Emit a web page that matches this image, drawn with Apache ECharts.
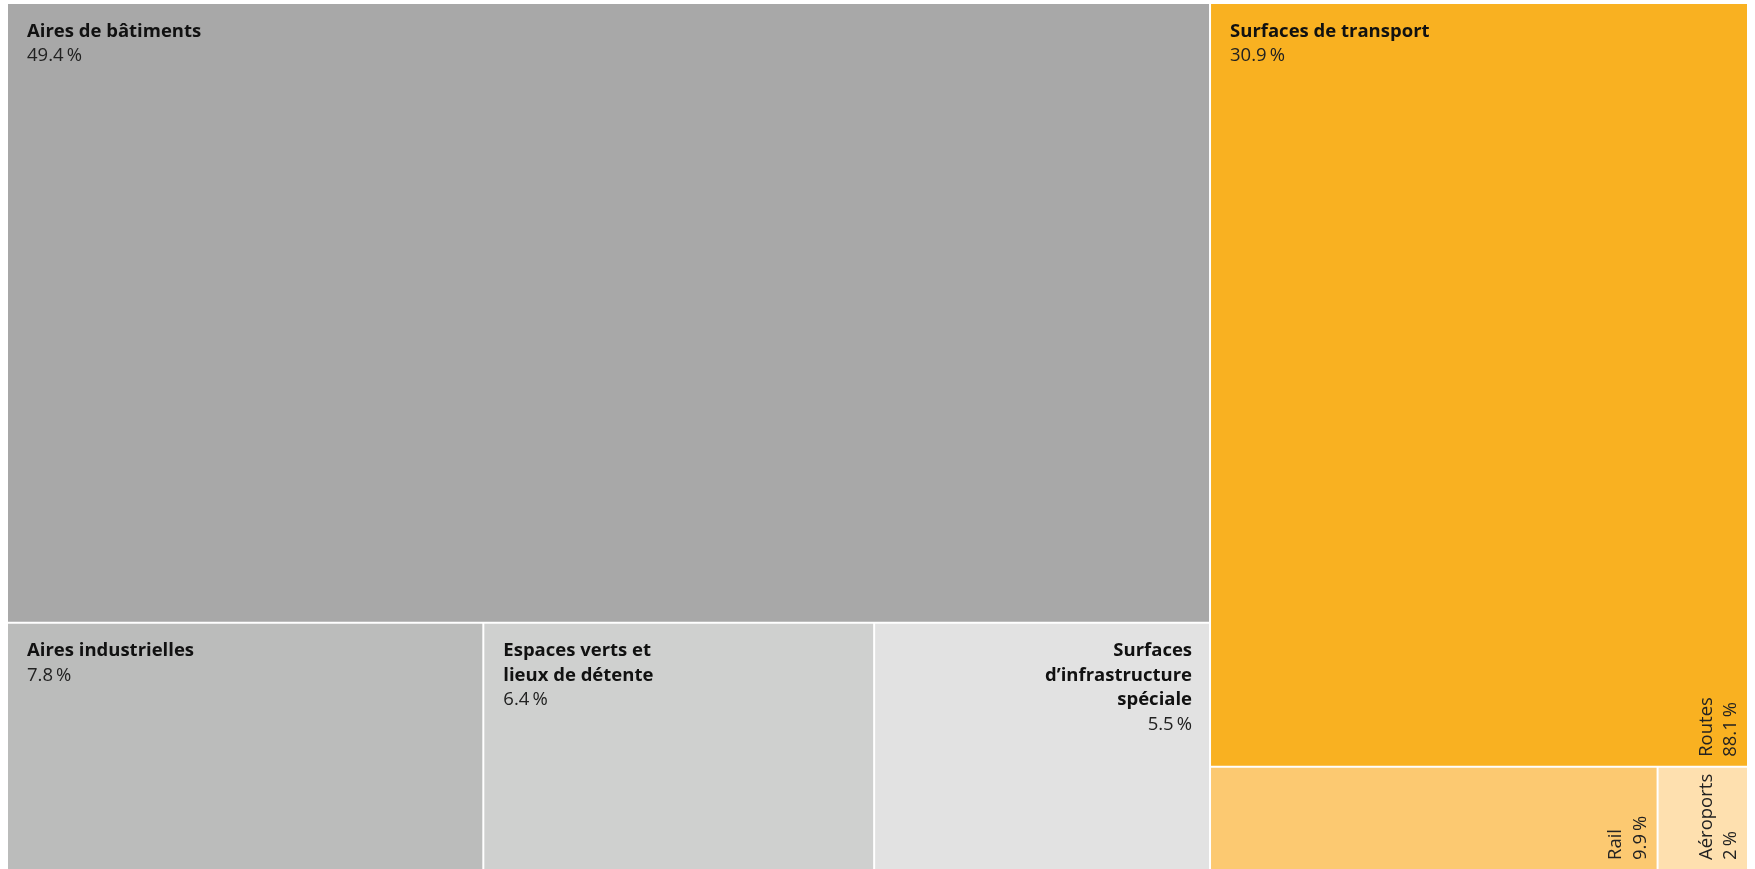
<!DOCTYPE html>
<html>
<head>
<meta charset="utf-8">
<script src="https://cdn.jsdelivr.net/npm/echarts@6/dist/echarts.min.js"></script>
<style>
  html, body { margin: 0; padding: 0; background: #fff; }
  #chart { width: 1755px; height: 869px; }
</style>
</head>
<body>
<div id="chart"></div>
<script>
// settlement areas, share of the total in %
const areaNames = ['Aires de bâtiments', 'Aires industrielles', 'Espaces verts et\nlieux de détente', 'Surfaces\nd’infrastructure\nspéciale'];
const areaShares = [49.4, 7.8, 6.4, 5.5];
const transportName = 'Surfaces de transport';
const transportShare = 30.9;
// transport surfaces, share of the transport surfaces in %
const transportNames = ['Routes', 'Rail', 'Aéroports'];
const transportShares = [88.1, 9.9, 2];

const areaColors = ['#a8a8a8', '#bbbcbb', '#cfd0cf', '#e2e2e2'];
const transportColors = ['#f9b121', '#fcc971', '#fee0af'];

const font = 'Open Sans';
const lh = 24.5;
const rich = {
  n: { fontFamily: font, fontWeight: 'bold', fontSize: 18.5, lineHeight: lh, color: '#111' },
  v: { fontFamily: font, fontWeight: 'normal', fontSize: 18.5, lineHeight: lh, color: '#222' }
};

function topLabel(align) {
  return {
    show: true,
    position: align === 'right' ? 'insideTopRight' : 'insideTopLeft',
    distance: 0,
    padding: [15, 17, 0, 19],
    align: align,
    formatter: p => '{n|' + p.name + '}\n{v|' + p.data.share + '\u2009%}',
    rich: {
      n: Object.assign({ align: align }, rich.n),
      v: Object.assign({ align: align }, rich.v)
    }
  };
}

// vertical label in the bottom right corner, reading upwards
function sideLabel() {
  return {
    show: true,
    position: 'insideBottomRight',
    distance: 0,
    rotate: 90,
    align: 'left',
    verticalAlign: 'top',
    padding: 0,
    offset: [9, -(2 * lh + 4)],
    overflow: 'none',
    formatter: p => '{v|' + p.name + '}\n{v|' + p.data.share + '\u2009%}',
    rich: rich
  };
}

function areaLeaf(i) {
  return {
    name: areaNames[i],
    value: areaShares[i],
    share: areaShares[i],
    itemStyle: { color: areaColors[i] },
    label: topLabel(i === 3 ? 'right' : 'left')
  };
}

function transportLeaves() {
  // child areas are shares of the transport block
  return transportNames.map((name, i) => ({
    name: name,
    value: transportShare * transportShares[i] / 100,
    share: transportShares[i],
    itemStyle: { color: transportColors[i] },
    label: sideLabel()
  }));
}

const treeData = [
  {
    name: 'Aires bâties',
    itemStyle: { color: areaColors[0] },
    children: [
      areaLeaf(0),
      { name: 'Autres', itemStyle: { color: areaColors[1] }, children: [areaLeaf(1), areaLeaf(2), areaLeaf(3)] }
    ]
  },
  { name: transportName, share: transportShare, itemStyle: { color: transportColors[0] }, children: transportLeaves() }
];

// same layout again, only to put the block title of the transport surfaces on top
const clear = 'rgba(0,0,0,0)';
const overlayData = [
  { name: 'Aires bâties', value: areaShares.reduce((a, b) => a + b, 0), itemStyle: { color: clear }, label: { show: false } },
  { name: transportName, value: transportShare, share: transportShare, itemStyle: { color: clear }, label: topLabel('left') }
];

const common = {
  type: 'treemap',
  left: 8, top: 4, right: 8, bottom: 0,
  roam: false,
  nodeClick: false,
  breadcrumb: { show: false },
  squareRatio: 2.5,
  sort: 'desc',
  animation: false,
  silent: true
};

const chart = echarts.init(document.getElementById('chart'));
chart.setOption({
  backgroundColor: '#fff',
  series: [
    Object.assign({}, common, {
      itemStyle: { borderWidth: 0, gapWidth: 2, borderColor: '#fff' },
      data: treeData
    }),
    Object.assign({}, common, {
      z: 10,
      itemStyle: { borderWidth: 0, gapWidth: 2, borderColor: clear },
      data: overlayData
    })
  ]
});
</script>
</body>
</html>
